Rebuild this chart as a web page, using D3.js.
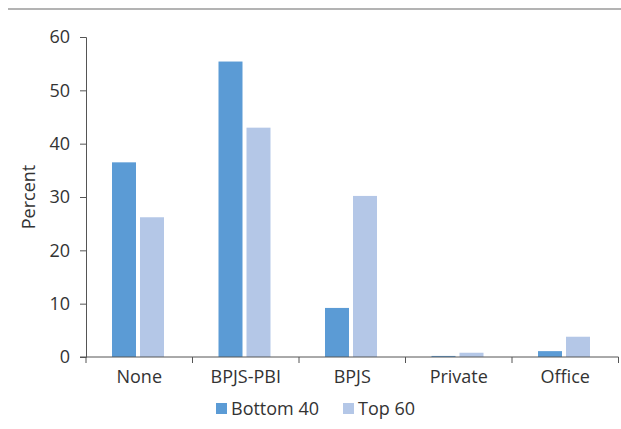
<!DOCTYPE html>
<html><head><meta charset="utf-8">
<script src="https://cdn.jsdelivr.net/npm/d3@7"></script>
<style>body{margin:0;background:#fff;} svg{display:block;font-family:"Open Sans",sans-serif;}</style>
</head><body>
<svg id="c" width="621" height="429"></svg>
<script>
const categories = ["None", "BPJS-PBI", "BPJS", "Private", "Office"];
const seriesNames = ["Bottom 40", "Top 60"];
const bottom40 = [36.5, 55.4, 9.2, 0.2, 1.1];
const top60 = [26.2, 43.0, 30.2, 0.8, 3.8];
const yTicks = [0, 10, 20, 30, 40, 50, 60];
const colors = ["#5b9bd5", "#b4c7e7"];

(function () {
const svg = d3.select("#c");
const mLeft = 86, mRight = 618.5, mTop = 37, mBottom = 357;
const fs = 18;

svg.append("line").attr("x1", 8).attr("x2", 621).attr("y1", 9).attr("y2", 9)
  .attr("stroke", "#9a9a9a").attr("stroke-width", 1.5);

const x0 = d3.scaleBand().domain(categories).range([mLeft, mRight]).padding(0);
const x1 = d3.scaleBand().domain(seriesNames).range([26, 78]).paddingInner(4/28).paddingOuter(0);
const y = d3.scaleLinear().domain([0, 60]).range([mBottom, mTop]);

const data = categories.map((c, i) => ({cat: c, vals: [bottom40[i], top60[i]]}));

const g = svg.append("g");
data.forEach(d => {
  d.vals.forEach((v, j) => {
    g.append("rect")
      .attr("x", x0(d.cat) + x1(seriesNames[j]))
      .attr("y", y(v))
      .attr("width", x1.bandwidth())
      .attr("height", mBottom - y(v))
      .attr("fill", colors[j]);
  });
});

// Y axis
const yAxis = d3.axisLeft(y).tickValues(yTicks).tickSize(6).tickPadding(10).tickFormat(d3.format("d"));
const ya = svg.append("g").attr("transform", `translate(${mLeft},0)`).call(yAxis);
ya.select(".domain").attr("stroke", "#555").attr("stroke-width", 1);
ya.selectAll(".tick line").attr("stroke", "#555");
ya.selectAll("text").attr("fill", "#333").attr("font-size", fs).attr("font-family", "Open Sans");

// X axis
const xa = svg.append("g").attr("transform", `translate(0,${mBottom})`);
xa.append("line").attr("x1", mLeft - 6).attr("x2", mRight).attr("y1", 0).attr("y2", 0).attr("stroke", "#555");
const edges = categories.map(c => x0(c)).concat([mRight]);
xa.selectAll(".tk").data(edges).enter().append("line")
  .attr("x1", d => d).attr("x2", d => d).attr("y1", 0).attr("y2", 6).attr("stroke", "#555");
xa.selectAll(".lab").data(categories).enter().append("text")
  .attr("x", d => x0(d) + x0.bandwidth() / 2).attr("y", 26)
  .attr("text-anchor", "middle").attr("fill", "#333").attr("font-size", fs)
  .text(d => d);

// Y title
svg.append("text").attr("transform", `translate(35,${(mTop + mBottom) / 2}) rotate(-90)`)
  .attr("text-anchor", "middle").attr("fill", "#333").attr("font-size", fs).text("Percent");

// Legend
const leg = svg.append("g").attr("transform", "translate(216,408)");
const legX = [0, 127];
seriesNames.forEach((s, j) => {
  leg.append("rect").attr("x", legX[j]).attr("y", -5).attr("width", 11).attr("height", 11).attr("fill", colors[j]);
  leg.append("text").attr("x", legX[j] + 15).attr("y", 6.5).attr("fill", "#333").attr("font-size", fs).text(s);
});
})();
</script>
</body></html>
